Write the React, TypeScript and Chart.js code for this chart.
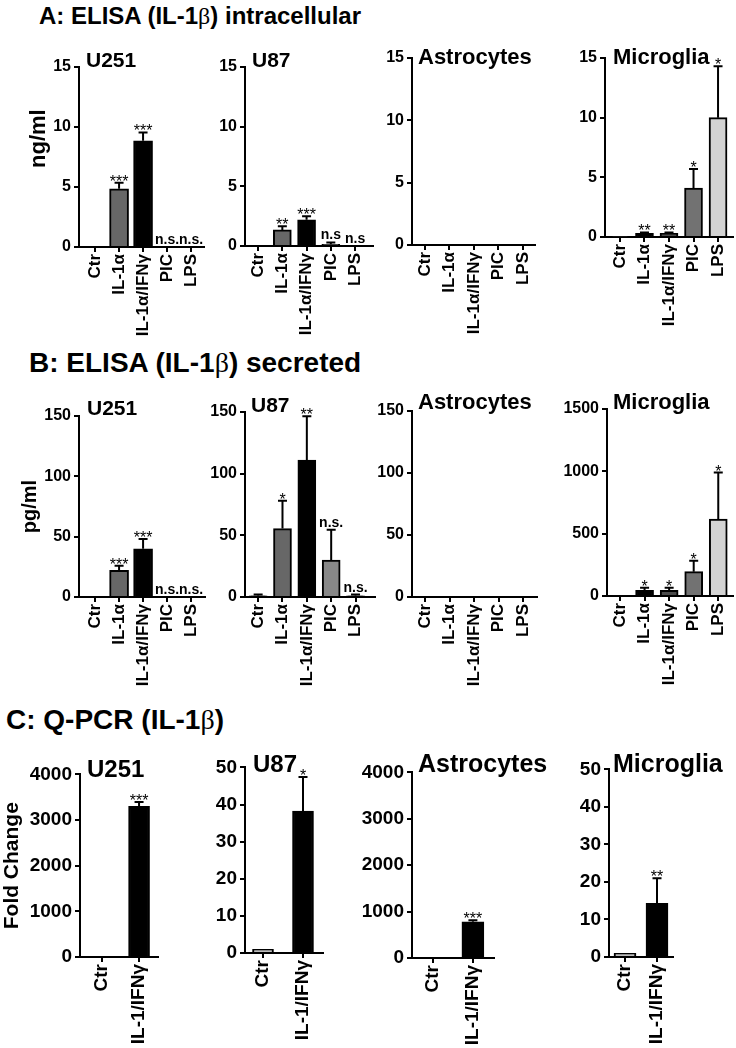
import React, { useEffect, useRef } from 'react';
import { Chart, registerables } from 'chart.js';

Chart.register(...registerables);

const FONT = "'Liberation Sans', Arial, Helvetica, sans-serif";

// ---------- categories / tick labels ----------
const elisaCats = ['Ctr', 'IL-1α', 'IL-1α/IFNγ', 'PIC', 'LPS'];
const pcrCats = ['Ctr', 'IL-1/IFNγ'];

// y-axis ranges: [max, step]
const ngRange = [15, 5];
const pgRange = [150, 50];
const pgMicroRange = [1500, 500];
const fcBigRange = [4000, 1000];
const fcSmallRange = [50, 10];

// ---------- A: ELISA (IL-1β) intracellular, ng/ml ----------
const aU251Mean = [0, 4.85, 8.85, 0, 0];
const aU251Upper = [0, 5.35, 9.55, 0, 0];
const aU251Sig = ['', '***', '***', 'n.s.', 'n.s.'];

const aU87Mean = [0, 1.35, 2.2, 0.15, 0];
const aU87Upper = [0, 1.65, 2.5, 0.3, 0];
const aU87Sig = ['', '**', '***', 'n.s', 'n.s'];

const aAstroMean = [0, 0, 0, 0, 0];
const aAstroUpper = [0, 0, 0, 0, 0];
const aAstroSig = ['', '', '', '', ''];

const aMicroMean = [0.05, 0.3, 0.3, 4.1, 10.0];
const aMicroUpper = [0.05, 0.38, 0.38, 5.7, 14.3];
const aMicroSig = ['', '**', '**', '*', '*'];

// ---------- B: ELISA (IL-1β) secreted, pg/ml ----------
const bU251Mean = [0, 22, 40, 0, 0];
const bU251Upper = [0, 26, 48, 0, 0];
const bU251Sig = ['', '***', '***', 'n.s.', 'n.s.'];

const bU87Mean = [1, 55.5, 111, 30, 1];
const bU87Upper = [2, 78, 146.5, 54.5, 2];
const bU87Sig = ['', '*', '**', 'n.s.', 'n.s.'];

const bAstroMean = [0, 0, 0, 0, 0];
const bAstroUpper = [0, 0, 0, 0, 0];
const bAstroSig = ['', '', '', '', ''];

const bMicroMean = [8, 46, 46, 195, 618];
const bMicroUpper = [8, 66, 66, 283, 990];
const bMicroSig = ['', '*', '*', '*', '*'];

// ---------- C: Q-PCR (IL-1β), fold change ----------
const cU251Mean = [0, 3300];
const cU251Upper = [0, 3395];
const cU251Sig = ['', '***'];

const cU87Mean = [1, 38.2];
const cU87Upper = [1, 47.4];
const cU87Sig = ['', '*'];

const cAstroMean = [0, 780];
const cAstroUpper = [0, 812];
const cAstroSig = ['', '***'];

const cMicroMean = [1, 14.3];
const cMicroUpper = [1, 21];
const cMicroSig = ['', '**'];

// ---------- styles ----------
const colU251 = ['#ffffff', '#676767', '#000000', '#888888', '#cccccc'];
const colU87A = ['#ffffff', '#676767', '#000000', '#5a5a5a', '#cccccc'];
const colU87B = ['#222222', '#676767', '#000000', '#888888', '#333333'];
const colMicro = ['#333333', '#000000', '#4a4a4a', '#727272', '#d3d3d3'];
const colPCR = ['#bdbdbd', '#000000'];

type Panel = {
  id: string;
  title: string;
  titleX: number;
  titleBase: number;
  titleSize: number;
  cats: string[];
  mean: number[];
  upper: number[];
  sig: string[];
  colors: string[];
  range: number[];
  yTitle?: string;
  yTitleSize?: number;
  L: number; T: number; B: number; R: number;
  xMin: number; xMax: number;
  yw: number; xh: number;
  barW: number;
  yFont: number; xFont: number;
};

const PAD_TOP = 14;
const PAD_RIGHT = 14;

const panels: Panel[] = [
  // Row A
  { id: 'aU251', title: 'U251', titleX: 86, titleBase: 67, titleSize: 21, cats: elisaCats, mean: aU251Mean, upper: aU251Upper, sig: aU251Sig, colors: colU251, range: ngRange,
    yTitle: '      ng/ml', yTitleSize: 22, L: 79, T: 67, B: 247, R: 204, xMin: -0.67, xMax: 4.54, yw: 53, xh: 100, barW: 19, yFont: 16, xFont: 17 },
  { id: 'aU87', title: 'U87', titleX: 252, titleBase: 67, titleSize: 21, cats: elisaCats, mean: aU87Mean, upper: aU87Upper, sig: aU87Sig, colors: colU87A, range: ngRange,
    L: 245, T: 67, B: 246, R: 373, xMin: -0.54, xMax: 4.74, yw: 54, xh: 100, barW: 18, yFont: 16, xFont: 17 },
  { id: 'aAstro', title: 'Astrocytes', titleX: 418, titleBase: 65, titleSize: 22, cats: elisaCats, mean: aAstroMean, upper: aAstroUpper, sig: aAstroSig, colors: colU251, range: ngRange,
    L: 412, T: 58, B: 245, R: 535, xMin: -0.53, xMax: 4.49, yw: 54, xh: 100, barW: 18, yFont: 16, xFont: 17 },
  { id: 'aMicro', title: 'Microglia', titleX: 613, titleBase: 65, titleSize: 22, cats: elisaCats, mean: aMicroMean, upper: aMicroUpper, sig: aMicroSig, colors: colMicro, range: ngRange,
    L: 605, T: 58, B: 237, R: 733, xMin: -0.61, xMax: 4.61, yw: 54, xh: 100, barW: 18, yFont: 16, xFont: 17 },
  // Row B
  { id: 'bU251', title: 'U251', titleX: 87, titleBase: 415, titleSize: 21, cats: elisaCats, mean: bU251Mean, upper: bU251Upper, sig: bU251Sig, colors: colU251, range: pgRange,
    yTitle: 'pg/ml', yTitleSize: 20, L: 79, T: 416, B: 597, R: 205, xMin: -0.67, xMax: 4.58, yw: 61, xh: 100, barW: 19, yFont: 16, xFont: 17 },
  { id: 'bU87', title: 'U87', titleX: 251, titleBase: 412, titleSize: 21, cats: elisaCats, mean: bU87Mean, upper: bU87Upper, sig: bU87Sig, colors: colU87B, range: pgRange,
    L: 245, T: 412, B: 597, R: 375, xMin: -0.54, xMax: 4.8, yw: 54, xh: 100, barW: 18, yFont: 16, xFont: 17 },
  { id: 'bAstro', title: 'Astrocytes', titleX: 418, titleBase: 410, titleSize: 22, cats: elisaCats, mean: bAstroMean, upper: bAstroUpper, sig: bAstroSig, colors: colU251, range: pgRange,
    L: 412, T: 411, B: 597, R: 537, xMin: -0.53, xMax: 4.57, yw: 54, xh: 100, barW: 18, yFont: 16, xFont: 17 },
  { id: 'bMicro', title: 'Microglia', titleX: 613, titleBase: 410, titleSize: 22, cats: elisaCats, mean: bMicroMean, upper: bMicroUpper, sig: bMicroSig, colors: colMicro, range: pgMicroRange,
    L: 607, T: 409, B: 596, R: 733, xMin: -0.53, xMax: 4.6, yw: 54, xh: 100, barW: 18, yFont: 16, xFont: 17 },
  // Row C
  { id: 'cU251', title: 'U251', titleX: 87, titleBase: 777, titleSize: 24, cats: pcrCats, mean: cU251Mean, upper: cU251Upper, sig: cU251Sig, colors: colPCR, range: fcBigRange,
    yTitle: 'Fold Change', yTitleSize: 21, L: 80, T: 774, B: 957, R: 158, xMin: -0.59, xMax: 1.51, yw: 80, xh: 95, barW: 21, yFont: 19, xFont: 19 },
  { id: 'cU87', title: 'U87', titleX: 253, titleBase: 772, titleSize: 24, cats: pcrCats, mean: cU87Mean, upper: cU87Upper, sig: cU87Sig, colors: colPCR, range: fcSmallRange,
    L: 245, T: 767, B: 953, R: 323, xMin: -0.45, xMax: 1.5, yw: 58, xh: 95, barW: 21, yFont: 19, xFont: 19 },
  { id: 'cAstro', title: 'Astrocytes', titleX: 418, titleBase: 772, titleSize: 25, cats: pcrCats, mean: cAstroMean, upper: cAstroUpper, sig: cAstroSig, colors: colPCR, range: fcBigRange,
    L: 412, T: 772, B: 958, R: 494, xMin: -0.53, xMax: 1.53, yw: 58, xh: 95, barW: 22, yFont: 19, xFont: 19 },
  { id: 'cMicro', title: 'Microglia', titleX: 613, titleBase: 772, titleSize: 25, cats: pcrCats, mean: cMicroMean, upper: cMicroUpper, sig: cMicroSig, colors: colPCR, range: fcSmallRange,
    L: 609, T: 769, B: 957, R: 673, xMin: -0.5, xMax: 1.5, yw: 58, xh: 95, barW: 22, yFont: 19, xFont: 19 },
];

function geom(p: Panel) {
  const left = p.L - p.yw;
  const top = p.T - PAD_TOP;
  const w = p.R - left + PAD_RIGHT;
  const h = p.B - top + p.xh;
  return { left, top, w, h };
}

function makeErrPlugin(p: Panel) {
  return {
    id: 'errBars_' + p.id,
    afterDatasetsDraw(chart: any) {
      const { ctx } = chart;
      const xs = chart.scales.x;
      const ys = chart.scales.y;
      ctx.save();
      ctx.strokeStyle = '#000';
      ctx.fillStyle = '#000';
      ctx.lineWidth = 2;
      ctx.textAlign = 'center';
      ctx.textBaseline = 'alphabetic';
      p.mean.forEach((v, i) => {
        const e = p.upper[i];
        const px = xs.getPixelForValue(i);
        const yv = ys.getPixelForValue(v);
        let top = yv;
        if (e > v) {
          const ye = ys.getPixelForValue(e);
          ctx.beginPath();
          ctx.moveTo(px, yv);
          ctx.lineTo(px, ye);
          ctx.moveTo(px - 4.5, ye);
          ctx.lineTo(px + 4.5, ye);
          ctx.stroke();
          top = ye;
        }
        const s = p.sig[i];
        if (s) {
          if (s.charAt(0) === '*') {
            ctx.font = `normal 16px ${FONT}`;
            ctx.fillText(s, px, top + 4);
          } else {
            ctx.font = `bold 14px ${FONT}`;
            ctx.fillText(s, px, top - 3);
          }
        }
      });
      ctx.restore();
    },
  };
}

function buildConfig(p: Panel): any {
  const gridOpts = { display: true, drawOnChartArea: false, drawTicks: true, tickLength: 5, color: '#000', lineWidth: 2, offset: false };
  const borderOpts = { display: true, color: '#000', width: 2 };
  return {
    type: 'bar',
    data: {
      datasets: [
        {
          data: p.mean.map((v, i) => ({ x: i, y: v })),
          backgroundColor: p.colors,
          borderColor: '#000',
          borderWidth: 2,
          barThickness: p.barW,
        },
      ],
    },
    options: {
      responsive: false,
      maintainAspectRatio: false,
      animation: false,
      events: [],
      layout: { padding: { top: PAD_TOP, right: PAD_RIGHT, bottom: 0, left: 0 } },
      plugins: { legend: { display: false }, tooltip: { enabled: false }, title: { display: false } },
      scales: {
        x: {
          type: 'linear',
          min: p.xMin,
          max: p.xMax,
          bounds: 'data',
          offset: false,
          afterBuildTicks: (s: any) => {
            s.ticks = p.cats.map((_, i) => ({ value: i }));
          },
          ticks: {
            autoSkip: false,
            minRotation: 90,
            maxRotation: 90,
            padding: 2,
            color: '#000',
            font: { family: FONT, size: p.xFont, weight: 'bold' },
            callback: (v: any) => p.cats[Math.round(Number(v))] ?? '',
          },
          grid: gridOpts,
          border: borderOpts,
          afterFit: (s: any) => {
            s.height = p.xh;
          },
        },
        y: {
          type: 'linear',
          min: 0,
          max: p.range[0],
          bounds: 'data',
          ticks: {
            stepSize: p.range[1],
            padding: 3,
            color: '#000',
            font: { family: FONT, size: p.yFont, weight: 'bold' },
            callback: (v: any) => String(v),
          },
          grid: gridOpts,
          border: borderOpts,
          title: p.yTitle
            ? { display: true, text: p.yTitle, color: '#000', padding: 0, font: { family: FONT, size: p.yTitleSize, weight: 'bold' } }
            : { display: false },
          afterFit: (s: any) => {
            s.width = p.yw;
          },
        },
      },
    },
    plugins: [makeErrPlugin(p)],
  };
}

function ChartPanel({ p }: { p: Panel }) {
  const ref = useRef<HTMLCanvasElement>(null);
  const g = geom(p);
  useEffect(() => {
    const chart = new Chart(ref.current as HTMLCanvasElement, buildConfig(p));
    return () => chart.destroy();
  }, []);
  return (
    <canvas
      ref={ref}
      width={g.w}
      height={g.h}
      style={{ position: 'absolute', left: g.left, top: g.top, width: g.w, height: g.h }}
    />
  );
}

function Txt({ x, base, size, children }: { x: number; base: number; size: number; children: any }) {
  return (
    <div
      style={{
        position: 'absolute',
        left: x,
        top: base - 0.8465 * size,
        fontFamily: FONT,
        fontSize: size,
        fontWeight: 'bold',
        lineHeight: 1,
        whiteSpace: 'nowrap',
        color: '#000',
      }}
    >
      {children}
    </div>
  );
}

const Beta = () => (
  <span style={{ fontFamily: "'Liberation Serif', 'DejaVu Serif', serif", fontWeight: 'normal' }}>β</span>
);

export default function App() {
  return (
    <div style={{ position: 'absolute', left: 0, top: 0, width: 736, height: 1048, background: '#fff', overflow: 'hidden' }}>
      <Txt x={39} base={24} size={24}>
        A: ELISA (IL-1<Beta />) intracellular
      </Txt>
      <Txt x={29} base={373} size={28}>
        B: ELISA (IL-1<Beta />) secreted
      </Txt>
      <Txt x={6} base={730} size={28}>
        C: Q-PCR (IL-1<Beta />)
      </Txt>
      {panels.map((p) => (
        <ChartPanel key={p.id} p={p} />
      ))}
      {panels.map((p) => (
        <Txt key={'t' + p.id} x={p.titleX} base={p.titleBase} size={p.titleSize}>
          {p.title}
        </Txt>
      ))}
    </div>
  );
}
